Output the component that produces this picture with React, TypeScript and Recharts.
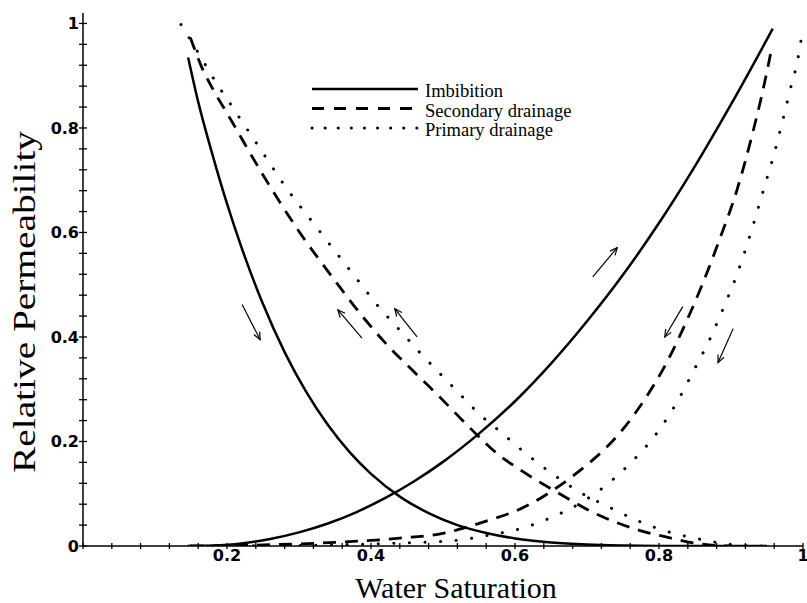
import React from 'react';
import { LineChart, Line, XAxis, YAxis, ReferenceLine, Legend, Label } from 'recharts';

// ---- axis ticks ----
const xTicks = [0, 0.04, 0.08, 0.12, 0.16, 0.2, 0.24, 0.28, 0.32, 0.36, 0.4, 0.44, 0.48, 0.52, 0.56, 0.6, 0.64, 0.68, 0.72, 0.76, 0.8, 0.84, 0.88, 0.92, 0.96, 1];
const yTicks = [0, 0.04, 0.08, 0.12, 0.16, 0.2, 0.24, 0.28, 0.32, 0.36, 0.4, 0.44, 0.48, 0.52, 0.56, 0.6, 0.64, 0.68, 0.72, 0.76, 0.8, 0.84, 0.88, 0.92, 0.96, 1];
const xLabelValues = [0.2, 0.4, 0.6, 0.8, 1];
const xLabelTexts = ['0.2', '0.4', '0.6', '0.8', '1'];
const yLabelValues = [0, 0.2, 0.4, 0.6, 0.8, 1];
const yLabelTexts = ['0', '0.2', '0.4', '0.6', '0.8', '1'];

// ---- series: Imbibition (solid) ----
const imbKroSw = [0.146, 0.16, 0.18, 0.2, 0.22, 0.25, 0.28, 0.31, 0.34, 0.37, 0.4, 0.44, 0.48, 0.52, 0.56, 0.6, 0.65, 0.7, 0.75, 0.8, 0.85, 0.9, 0.95];
const imbKro = [0.935, 0.85, 0.748, 0.655, 0.572, 0.463, 0.371, 0.295, 0.232, 0.18, 0.138, 0.0945, 0.063, 0.04, 0.025, 0.0145, 0.0068, 0.0028, 0.001, 0.0002, 0, 0, 0];
const imbKrwSw = [0.145, 0.18, 0.22, 0.26, 0.3, 0.34, 0.38, 0.42, 0.46, 0.5, 0.55, 0.6, 0.65, 0.7, 0.75, 0.8, 0.85, 0.9, 0.958];
const imbKrw = [0, 0.001, 0.005, 0.0135, 0.026, 0.043, 0.065, 0.092, 0.124, 0.161, 0.215, 0.277, 0.349, 0.43, 0.519, 0.618, 0.727, 0.845, 0.99];

// ---- series: Secondary drainage (dashed) ----
const secKroSw = [0.149, 0.165, 0.183, 0.201, 0.25, 0.301, 0.346, 0.392, 0.417, 0.46, 0.497, 0.521, 0.547, 0.576, 0.607, 0.653, 0.672, 0.707, 0.739, 0.775, 0.811, 0.847, 0.88, 0.9];
const secKro = [0.973, 0.916, 0.868, 0.826, 0.71, 0.6, 0.515, 0.433, 0.393, 0.333, 0.283, 0.249, 0.213, 0.176, 0.146, 0.107, 0.092, 0.065, 0.046, 0.029, 0.017, 0.006, 0.001, 0];
const secKrwSw = [0.15, 0.25, 0.35, 0.44, 0.503, 0.533, 0.565, 0.601, 0.636, 0.653, 0.697, 0.725, 0.749, 0.772, 0.811, 0.843, 0.86, 0.885, 0.908, 0.93, 0.944, 0.957];
const secKrw = [0, 0.002, 0.007, 0.015, 0.025, 0.036, 0.05, 0.067, 0.092, 0.107, 0.152, 0.186, 0.222, 0.264, 0.352, 0.445, 0.5, 0.59, 0.68, 0.79, 0.87, 0.956];

// ---- series: Primary drainage (dotted) ----
const priKroSw = [0.136, 0.16, 0.183, 0.208, 0.25, 0.28, 0.325, 0.353, 0.381, 0.408, 0.438, 0.468, 0.5, 0.531, 0.547, 0.582, 0.616, 0.652, 0.69, 0.73, 0.771, 0.813, 0.857, 0.9, 0.95];
const priKro = [0.998, 0.944, 0.891, 0.839, 0.752, 0.69, 0.609, 0.559, 0.51, 0.462, 0.416, 0.37, 0.324, 0.28, 0.257, 0.216, 0.176, 0.138, 0.103, 0.075, 0.048, 0.027, 0.013, 0.003, 0];
const priKrwSw = [0.15, 0.3, 0.4, 0.47, 0.521, 0.565, 0.61, 0.651, 0.693, 0.729, 0.762, 0.792, 0.818, 0.851, 0.871, 0.889, 0.906, 0.921, 0.947, 0.96, 0.971, 0.982, 0.993, 1.0];
const priKrw = [0, 0.001, 0.004, 0.007, 0.011, 0.021, 0.034, 0.055, 0.084, 0.119, 0.161, 0.207, 0.259, 0.343, 0.397, 0.454, 0.511, 0.571, 0.69, 0.751, 0.81, 0.872, 0.933, 0.992];

// ---- legend ----
const legendNames = ['Imbibition', 'Secondary drainage', 'Primary drainage'];

// ---- direction arrows (start -> end, data coords) ----
const arrowX1 = [0.221, 0.3875, 0.464, 0.708, 0.833, 0.903];
const arrowY1 = [0.462, 0.398, 0.4, 0.515, 0.458, 0.416];
const arrowX2 = [0.246, 0.354, 0.433, 0.742, 0.808, 0.882];
const arrowY2 = [0.395, 0.452, 0.454, 0.571, 0.4, 0.351];

const toPoints = (xs: number[], ys: number[]) => xs.map((x, i) => ({ x, y: ys[i] }));

const imbKroData = toPoints(imbKroSw, imbKro);
const imbKrwData = toPoints(imbKrwSw, imbKrw);
const secKroData = toPoints(secKroSw, secKro);
const secKrwData = toPoints(secKrwSw, secKrw);
const priKroData = toPoints(priKroSw, priKro);
const priKrwData = toPoints(priKrwSw, priKrw);

const TICK_FONT = 'DejaVu Sans';
const SERIF = '"Liberation Serif", "Times New Roman", serif';

const XTick = (props: any) => {
  const { x, y, payload } = props;
  const idx = xLabelValues.findIndex((v) => Math.abs(v - payload.value) < 1e-6);
  return (
    <g>
      <line x1={x} x2={x} y1={y - 3} y2={y + 3} stroke="#000" strokeWidth={1.3} />
      {idx >= 0 && (
        <text x={x} y={y + 15} textAnchor="middle" fontFamily={TICK_FONT} fontWeight="bold" fontSize={16} fill="#000">
          {xLabelTexts[idx]}
        </text>
      )}
    </g>
  );
};

const YTick = (props: any) => {
  const { x, y, payload } = props;
  const idx = yLabelValues.findIndex((v) => Math.abs(v - payload.value) < 1e-6);
  return (
    <g>
      <line x1={x - 4} x2={x + 4} y1={y} y2={y} stroke="#000" strokeWidth={1.3} />
      {idx >= 0 && (
        <text x={x - 4} y={y + 6} textAnchor="end" fontFamily={TICK_FONT} fontWeight="bold" fontSize={16} fill="#000">
          {yLabelTexts[idx]}
        </text>
      )}
    </g>
  );
};

const ArrowShape = (props: any) => {
  const { x1, y1, x2, y2 } = props;
  const ang = Math.atan2(y2 - y1, x2 - x1);
  const L = 8;
  const a = 0.42;
  const hx1 = x2 - L * Math.cos(ang - a);
  const hy1 = y2 - L * Math.sin(ang - a);
  const hx2 = x2 - L * Math.cos(ang + a);
  const hy2 = y2 - L * Math.sin(ang + a);
  return (
    <g>
      <line x1={x1} y1={y1} x2={x2} y2={y2} stroke="#000" strokeWidth={1.2} />
      <polyline points={`${hx1},${hy1} ${x2},${y2} ${hx2},${hy2}`} fill="none" stroke="#000" strokeWidth={1.2} />
    </g>
  );
};

const legendStyles = [
  { strokeWidth: 2.5, dash: undefined as string | undefined, cap: 'butt' as const },
  { strokeWidth: 3, dash: '12 10', cap: 'butt' as const },
  { strokeWidth: 3, dash: '0.1 13', cap: 'round' as const },
];

const renderLegend = () => (
  <svg width={290} height={70} style={{ display: 'block' }}>
    {legendNames.map((name, i) => {
      const ly = 14 + i * 19.5;
      const st = legendStyles[i];
      return (
        <g key={name}>
          <line x1={7} x2={113} y1={ly} y2={ly} stroke="#000" strokeWidth={st.strokeWidth} strokeDasharray={st.dash} strokeLinecap={st.cap} />
          <text x={120} y={ly + 8} fontFamily={SERIF} fontSize={18.5} fill="#000">
            {name}
          </text>
        </g>
      );
    })}
  </svg>
);

export default function App() {
  return (
    <div style={{ position: 'absolute', left: 0, top: 0, background: '#fff' }}>
      <LineChart width={807} height={603} margin={{ top: 13, right: 4, bottom: 0, left: 0 }}>
        <XAxis
          type="number"
          dataKey="x"
          domain={[0, 1]}
          ticks={xTicks}
          interval={0}
          tick={<XTick />}
          tickLine={false}
          tickSize={0}
          tickMargin={0}
          height={57}
          axisLine={{ stroke: '#000', strokeWidth: 1.5 }}
          allowDataOverflow
        >
          <Label
            content={() => (
              <text x={456} y={598} textAnchor="middle" fontFamily={SERIF} fontSize={30} fill="#000">
                Water Saturation
              </text>
            )}
          />
        </XAxis>
        <YAxis
          type="number"
          domain={[0, 1.02]}
          ticks={yTicks}
          interval={0}
          tick={<YTick />}
          tickLine={false}
          tickSize={0}
          tickMargin={0}
          width={83}
          axisLine={{ stroke: '#000', strokeWidth: 1.5 }}
          allowDataOverflow
        >
          <Label
            content={() => (
              <text
                transform="translate(35, 302) rotate(-90)"
                textAnchor="middle"
                fontFamily={SERIF}
                fontSize={31}
                textLength={342}
                lengthAdjust="spacingAndGlyphs"
                fill="#000"
              >
                Relative Permeability
              </text>
            )}
          />
        </YAxis>
        <Legend
          content={renderLegend}
          layout="horizontal"
          verticalAlign="middle"
          align="center"
          wrapperStyle={{ position: 'absolute', left: 305, top: 75, width: 290, height: 70 }}
        />
        <Line data={imbKroData} dataKey="y" type="monotone" stroke="#000" strokeWidth={2.5} dot={false} isAnimationActive={false} legendType="none" />
        <Line data={imbKrwData} dataKey="y" type="monotone" stroke="#000" strokeWidth={2.5} dot={false} isAnimationActive={false} legendType="none" />
        <Line data={secKroData} dataKey="y" type="monotone" stroke="#000" strokeWidth={2.8} strokeDasharray="13 9" dot={false} isAnimationActive={false} legendType="none" />
        <Line data={secKrwData} dataKey="y" type="monotone" stroke="#000" strokeWidth={2.8} strokeDasharray="13 9" dot={false} isAnimationActive={false} legendType="none" />
        <Line data={priKroData} dataKey="y" type="monotone" stroke="#000" strokeWidth={3} strokeDasharray="0.1 15.5" strokeLinecap="round" dot={false} isAnimationActive={false} legendType="none" />
        <Line data={priKrwData} dataKey="y" type="monotone" stroke="#000" strokeWidth={3} strokeDasharray="0.1 15.5" strokeLinecap="round" dot={false} isAnimationActive={false} legendType="none" />
        {arrowX1.map((ax, i) => (
          <ReferenceLine
            key={i}
            segment={[{ x: ax, y: arrowY1[i] }, { x: arrowX2[i], y: arrowY2[i] }]}
            shape={ArrowShape}
            ifOverflow="visible"
          />
        ))}
      </LineChart>
    </div>
  );
}
